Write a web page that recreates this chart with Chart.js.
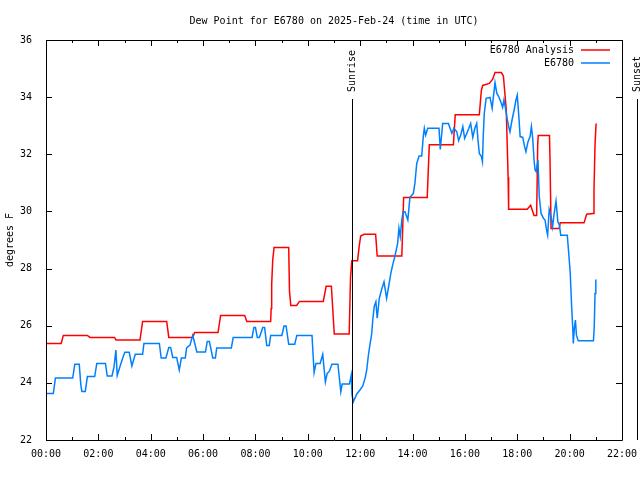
<!DOCTYPE html>
<html>
<head>
<meta charset="utf-8">
<script src="https://cdn.jsdelivr.net/npm/chart.js"></script>
<style>
  html, body { margin: 0; padding: 0; background: #fff; }
</style>
</head>
<body>
<canvas id="myChart" width="640" height="480"></canvas>
<script>
// E6780 Analysis (red), hours UTC
var analysisHours = [0.00, 0.58, 0.66, 1.58, 1.68, 2.62, 2.67, 3.59, 3.69, 4.61, 4.69, 5.60, 5.68, 6.57, 6.67, 7.59, 7.67,
  8.58, 8.60, 8.62, 8.66, 8.71, 9.27, 9.30, 9.35, 9.57, 9.68, 10.59, 10.70, 10.90, 11.01, 11.58, 11.63, 11.68,
  11.90, 11.96, 12.02, 12.15, 12.59, 12.65, 13.59, 13.66, 14.56, 14.64, 15.56, 15.63, 16.55, 16.63, 16.68, 16.93,
  17.06, 17.15, 17.39, 17.47, 17.58, 17.65, 17.67, 18.38, 18.51, 18.64, 18.74, 18.78, 18.80, 19.23, 19.25, 19.29,
  19.60, 19.64, 20.55, 20.65, 20.90, 20.93, 20.97, 21.01];
var analysisValues = [25.38, 25.38, 25.66, 25.66, 25.59, 25.59, 25.50, 25.50, 26.15, 26.15, 25.59, 25.59, 25.76, 25.76, 26.36, 26.36, 26.15,
  26.15, 26.60, 27.46, 28.30, 28.74, 28.74, 27.20, 26.71, 26.71, 26.85, 26.85, 27.38, 27.38, 25.71, 25.71, 27.66, 28.27,
  28.27, 28.77, 29.14, 29.20, 29.20, 28.44, 28.44, 30.49, 30.49, 32.33, 32.33, 33.38, 33.38, 34.25, 34.41, 34.48,
  34.63, 34.86, 34.86, 34.74, 33.55, 31.20, 30.08, 30.08, 30.22, 29.86, 29.86, 32.33, 32.66, 32.66, 31.84, 29.40,
  29.40, 29.60, 29.60, 29.90, 29.93, 30.75, 32.33, 33.08];

// E6780 observations (blue)
var obsHours = [0.00, 0.28, 0.36, 1.02, 1.10, 1.27, 1.33, 1.37, 1.50, 1.58, 1.86, 1.94, 2.27, 2.34, 2.52, 2.60, 2.67, 2.72,
  2.85, 2.95, 3.01, 3.18, 3.28, 3.41, 3.69, 3.74, 4.33, 4.40, 4.58, 4.69, 4.76, 4.84, 4.99, 5.09, 5.17, 5.32, 5.37,
  5.50, 5.60, 5.65, 5.76, 6.09, 6.16, 6.24, 6.37, 6.47, 6.52, 7.08, 7.15, 7.87, 7.94, 8.00, 8.07, 8.15, 8.28, 8.35,
  8.43, 8.53, 8.58, 9.01, 9.09, 9.17, 9.27, 9.50, 9.58, 10.16, 10.24, 10.31, 10.47, 10.57, 10.67, 10.74, 10.82,
  10.92, 11.15, 11.26, 11.31, 11.59, 11.66, 11.69, 11.74, 11.87, 11.99, 12.10, 12.20, 12.25, 12.31, 12.38, 12.44,
  12.48, 12.54, 12.60, 12.65, 12.73, 12.82, 12.91, 13.01, 13.09, 13.17, 13.24, 13.33, 13.43, 13.48, 13.53, 13.59,
  13.64, 13.71, 13.82, 13.90, 14.03, 14.09, 14.16, 14.25, 14.35, 14.41, 14.45, 14.50, 14.58, 15.01, 15.06, 15.15,
  15.37, 15.50, 15.58, 15.69, 15.76, 15.84, 15.92, 15.99, 16.07, 16.15, 16.22, 16.30, 16.38, 16.45, 16.50, 16.55,
  16.63, 16.67, 16.70, 16.74, 16.81, 16.96, 17.04, 17.09, 17.15, 17.22, 17.29, 17.37, 17.44, 17.49, 17.54, 17.60,
  17.66, 17.72, 17.80, 17.88, 17.95, 18.00, 18.06, 18.11, 18.21, 18.28, 18.33, 18.41, 18.49, 18.54, 18.59, 18.64,
  18.68, 18.72, 18.79, 18.84, 18.91, 19.00, 19.06, 19.12, 19.16, 19.22, 19.29, 19.35, 19.40, 19.48, 19.55, 19.61,
  19.66, 19.91, 19.95, 20.02, 20.08, 20.12, 20.14, 20.18, 20.22, 20.26, 20.33, 20.91, 20.94, 20.97, 21.00];
var obsValues = [23.63, 23.63, 24.17, 24.17, 24.65, 24.65, 23.93, 23.70, 23.70, 24.22, 24.22, 24.68, 24.68, 24.24, 24.24, 24.57, 25.15, 24.26,
  24.64, 24.92, 25.07, 25.07, 24.59, 25.00, 25.00, 25.38, 25.38, 24.87, 24.87, 25.24, 25.24, 24.89, 24.89, 24.45, 24.87, 24.87, 25.22,
  25.32, 25.66, 25.50, 25.08, 25.08, 25.45, 25.45, 24.87, 24.87, 25.22, 25.22, 25.59, 25.59, 25.94, 25.94, 25.59, 25.59, 25.94, 25.94,
  25.31, 25.31, 25.66, 25.66, 25.99, 25.99, 25.35, 25.35, 25.66, 25.66, 24.36, 24.68, 24.68, 25.00, 24.03, 24.33, 24.40,
  24.65, 24.65, 23.69, 23.96, 23.96, 24.27, 23.57, 23.34, 23.61, 23.75, 23.89, 24.21, 24.45, 24.94, 25.38, 25.71,
  26.20, 26.69, 26.84, 26.26, 26.96, 27.27, 27.54, 26.96, 27.39, 27.83, 28.12, 28.45, 28.88, 29.41, 29.12, 29.70,
  29.99, 29.99, 29.70, 30.49, 30.63, 30.98, 31.68, 31.94, 31.94, 32.62, 32.91, 32.67, 32.91, 32.91, 32.17, 33.08,
  33.08, 32.73, 32.91, 32.79, 32.48, 32.67, 32.97, 32.56, 32.73, 32.91, 33.08, 32.59, 32.91, 33.08, 32.50, 32.03,
  31.92, 31.74, 32.62, 33.43, 33.96, 33.99, 33.61, 34.02, 34.51, 34.13, 34.02, 33.84, 33.64, 33.90, 33.67, 33.32,
  33.02, 32.79, 33.20, 33.55, 33.90, 34.07, 33.32, 32.62, 32.59, 32.27, 32.09, 32.44, 32.62, 32.97, 32.56, 31.80,
  31.45, 31.39, 31.80, 30.52, 29.93, 29.76, 29.70, 29.35, 29.17, 30.07, 29.82, 29.47, 29.87, 30.36, 29.64, 29.52,
  29.17, 29.17, 28.71, 27.89, 26.61, 25.91, 25.38, 25.91, 26.20, 25.67, 25.47, 25.47, 25.97, 27.13, 27.62];

var eventLabels = ["Sunrise", "Sunset"];
var eventHours = [11.70, 22.57];

var yTicks = [22, 24, 26, 28, 30, 32, 34, 36];

var monoFont = { family: "DejaVu Sans Mono", size: 10 };

function toPoints(xs, ys) {
  return xs.map(function (x, i) { return { x: x, y: ys[i] }; });
}

function hourLabel(v) {
  return (v < 10 ? "0" : "") + v + ":00";
}

// gnuplot style frame: box, inward ticks, sun lines, legend inside
var framePlugin = {
  id: "frame",
  afterDraw: function (chart) {
    var ctx = chart.ctx;
    var a = chart.chartArea;
    var xs = chart.scales.x;
    var ys = chart.scales.y;
    ctx.save();
    ctx.strokeStyle = "#000";
    ctx.lineWidth = 1;
    ctx.beginPath();
    ctx.rect(Math.round(a.left) + 0.5, Math.round(a.top) + 0.5, Math.round(a.right - a.left), Math.round(a.bottom - a.top));
    xs.ticks.forEach(function (t) {
      var px = Math.round(xs.getPixelForValue(t.value)) + 0.5;
      var len = t.value % 2 === 0 ? 6 : 3;
      ctx.moveTo(px, a.bottom); ctx.lineTo(px, a.bottom - len);
      ctx.moveTo(px, a.top); ctx.lineTo(px, a.top + len);
    });
    ys.ticks.forEach(function (t) {
      var py = Math.round(ys.getPixelForValue(t.value)) + 0.5;
      ctx.moveTo(a.left, py); ctx.lineTo(a.left + 6, py);
      ctx.moveTo(a.right, py); ctx.lineTo(a.right - 6, py);
    });
    ctx.stroke();

    // sunrise / sunset
    ctx.font = "10px 'DejaVu Sans Mono'";
    ctx.fillStyle = "#000";
    eventHours.forEach(function (h, i) {
      var px = Math.round(xs.getPixelForValue(h)) + 0.5;
      ctx.beginPath();
      ctx.moveTo(px, a.top + 59);
      ctx.lineTo(px, a.bottom);
      ctx.stroke();
      ctx.save();
      ctx.translate(px, a.top + 52);
      ctx.rotate(-Math.PI / 2);
      ctx.textAlign = "left";
      ctx.textBaseline = "middle";
      ctx.fillText(eventLabels[i], 0, 0);
      ctx.restore();
    });

    // legend
    ctx.textAlign = "right";
    ctx.textBaseline = "middle";
    chart.data.datasets.forEach(function (ds, i) {
      var y = a.top + 10 + i * 13;
      ctx.fillStyle = "#000";
      ctx.fillText(ds.label, a.right - 48, y);
      ctx.strokeStyle = ds.borderColor;
      ctx.lineWidth = 1.5;
      ctx.beginPath();
      ctx.moveTo(a.right - 41, y);
      ctx.lineTo(a.right - 12, y);
      ctx.stroke();
    });
    ctx.restore();
  }
};

new Chart("myChart", {
  type: "line",
  data: {
    datasets: [
      {
        label: "E6780 Analysis",
        data: toPoints(analysisHours, analysisValues),
        borderColor: "#ff0000",
        borderWidth: 1.5,
        pointRadius: 0,
        tension: 0,
        order: 1,
      },
      {
        label: "E6780",
        data: toPoints(obsHours, obsValues),
        borderColor: "#0080ff",
        borderWidth: 1.5,
        pointRadius: 0,
        tension: 0,
        order: 0,
      },
    ],
  },
  options: {
    responsive: false,
    animation: false,
    layout: { padding: { left: 0, right: 18, top: 0, bottom: 0 } },
    plugins: {
      legend: { display: false },
      tooltip: { enabled: false },
      title: {
        display: true,
        fullSize: false,
        text: "Dew Point for E6780 on 2025-Feb-24 (time in UTC)",
        color: "#000",
        font: { family: "DejaVu Sans Mono", size: 10, weight: "normal" },
        padding: { top: 15, bottom: 13 },
      },
    },
    scales: {
      x: {
        type: "linear",
        min: 0,
        max: 22,
        grid: { display: false },
        border: { display: false },
        ticks: {
          stepSize: 1,
          autoSkip: false,
          maxRotation: 0,
          color: "#000",
          font: monoFont,
          padding: 0,
          callback: function (v) { return v % 2 === 0 ? hourLabel(v) : ""; },
        },
        afterFit: function (s) {
          s.height = 40;
          s.paddingLeft = 0;
          s.paddingRight = 0;
        },
      },
      y: {
        min: yTicks[0],
        max: yTicks[yTicks.length - 1],
        grid: { display: false },
        border: { display: false },
        ticks: { stepSize: 2, color: "#000", font: monoFont, padding: 6 },
        title: { display: true, text: "degrees F", color: "#000", font: monoFont, padding: { top: 4, bottom: 0 } },
        afterFit: function (s) {
          s.width = 46;
          s.paddingTop = 0;
          s.paddingBottom = 0;
        },
      },
    },
  },
  plugins: [framePlugin],
});
</script>
</body>
</html>
